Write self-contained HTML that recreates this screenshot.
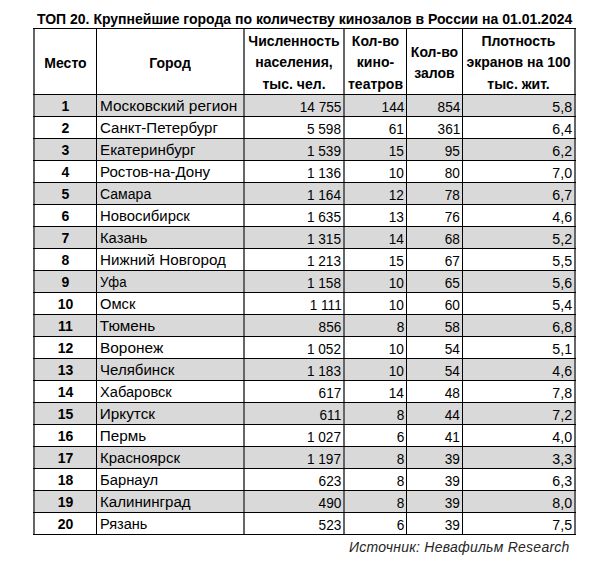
<!DOCTYPE html>
<html><head><meta charset="utf-8"><style>
html,body{margin:0;padding:0;background:#fff;}
body{width:609px;height:568px;position:relative;overflow:hidden;font-family:"Liberation Sans",sans-serif;color:#000;}
.a{position:absolute;white-space:nowrap;}
.hl{position:absolute;height:1px;background:#000;}
.vl{position:absolute;}
.g{position:absolute;background:#d9d9d9;}
.t{position:absolute;white-space:nowrap;font-size:15px;line-height:20px;height:20px;}
.b{font-weight:bold;font-size:14px;}
.num{text-align:right;font-size:15.2px;}
.num span{display:inline-block;transform:scaleX(0.898);transform-origin:100% 50%;}
.h{position:absolute;font-weight:bold;font-size:14px;line-height:21.5px;text-align:center;white-space:nowrap;}
</style></head><body>

<div class="a" style="left:37px;top:10.5px;font-size:14px;font-weight:bold;line-height:16px;letter-spacing:0px">ТОП 20. Крупнейшие города по количеству кинозалов в России на 01.01.2024</div>
<div class="g" style="left:33px;top:94px;width:543px;height:22px"></div>
<div class="g" style="left:33px;top:138px;width:543px;height:22px"></div>
<div class="g" style="left:33px;top:182px;width:543px;height:22px"></div>
<div class="g" style="left:33px;top:226px;width:543px;height:22px"></div>
<div class="g" style="left:33px;top:270px;width:543px;height:22px"></div>
<div class="g" style="left:33px;top:314px;width:543px;height:22px"></div>
<div class="g" style="left:33px;top:358px;width:543px;height:22px"></div>
<div class="g" style="left:33px;top:402px;width:543px;height:22px"></div>
<div class="g" style="left:33px;top:446px;width:543px;height:22px"></div>
<div class="g" style="left:33px;top:490px;width:543px;height:22px"></div>
<div class="vl" style="left:33px;top:28px;width:2px;height:507px;background:#666"></div>
<div class="vl" style="left:96px;top:28px;width:1px;height:507px;background:#000"></div>
<div class="vl" style="left:243px;top:28px;width:2px;height:507px;background:#666"></div>
<div class="vl" style="left:343px;top:28px;width:2px;height:507px;background:#666"></div>
<div class="vl" style="left:406px;top:28px;width:1px;height:507px;background:#000"></div>
<div class="vl" style="left:462px;top:28px;width:1px;height:507px;background:#000"></div>
<div class="vl" style="left:574px;top:28px;width:2px;height:507px;background:#666"></div>
<div class="hl" style="left:33px;top:28px;width:543px"></div>
<div class="hl" style="left:33px;top:94px;width:543px"></div>
<div class="hl" style="left:33px;top:116px;width:543px"></div>
<div class="hl" style="left:33px;top:138px;width:543px"></div>
<div class="hl" style="left:33px;top:160px;width:543px"></div>
<div class="hl" style="left:33px;top:182px;width:543px"></div>
<div class="hl" style="left:33px;top:204px;width:543px"></div>
<div class="hl" style="left:33px;top:226px;width:543px"></div>
<div class="hl" style="left:33px;top:248px;width:543px"></div>
<div class="hl" style="left:33px;top:270px;width:543px"></div>
<div class="hl" style="left:33px;top:292px;width:543px"></div>
<div class="hl" style="left:33px;top:314px;width:543px"></div>
<div class="hl" style="left:33px;top:336px;width:543px"></div>
<div class="hl" style="left:33px;top:358px;width:543px"></div>
<div class="hl" style="left:33px;top:380px;width:543px"></div>
<div class="hl" style="left:33px;top:402px;width:543px"></div>
<div class="hl" style="left:33px;top:424px;width:543px"></div>
<div class="hl" style="left:33px;top:446px;width:543px"></div>
<div class="hl" style="left:33px;top:468px;width:543px"></div>
<div class="hl" style="left:33px;top:490px;width:543px"></div>
<div class="hl" style="left:33px;top:512px;width:543px"></div>
<div class="hl" style="left:33px;top:534px;width:543px"></div>
<div class="h" style="left:35px;top:52.5px;width:61px">Место</div>
<div class="h" style="left:97px;top:52.5px;width:146px">Город</div>
<div class="h" style="left:245px;top:30.5px;width:98px">Численность<br>населения,<br>тыс. чел.</div>
<div class="h" style="left:345px;top:30.5px;width:61px">Кол-во<br>кино-<br>театров</div>
<div class="h" style="left:407px;top:41.5px;width:55px">Кол-во<br>залов</div>
<div class="h" style="left:463px;top:30.5px;width:111px">Плотность<br>экранов на 100<br>тыс. жит.</div>
<div class="t b" style="left:35px;width:61px;top:96px;text-align:center">1</div>
<div class="t" style="left:99.8px;top:96px;font-size:15.3px"><span style="display:inline-block;transform:scaleX(1.009);transform-origin:0 50%">Московский регион</span></div>
<div class="t num" style="left:241.39999999999998px;width:100px;top:97px"><span>14 755</span></div>
<div class="t num" style="left:304.4px;width:100px;top:97px"><span>144</span></div>
<div class="t num" style="left:360.4px;width:100px;top:97px"><span>854</span></div>
<div class="t num" style="left:472px;width:100px;top:97px"><span style="transform:scaleX(0.9375)">5,8</span></div>
<div class="t b" style="left:35px;width:61px;top:118px;text-align:center">2</div>
<div class="t" style="left:99.8px;top:118px;font-size:15.3px"><span style="display:inline-block;transform:scaleX(0.983);transform-origin:0 50%">Санкт-Петербург</span></div>
<div class="t num" style="left:241.39999999999998px;width:100px;top:119px"><span>5 598</span></div>
<div class="t num" style="left:304.4px;width:100px;top:119px"><span>61</span></div>
<div class="t num" style="left:360.4px;width:100px;top:119px"><span>361</span></div>
<div class="t num" style="left:472px;width:100px;top:119px"><span style="transform:scaleX(0.9375)">6,4</span></div>
<div class="t b" style="left:35px;width:61px;top:140px;text-align:center">3</div>
<div class="t" style="left:99.8px;top:140px;font-size:15.3px"><span style="display:inline-block;transform:scaleX(0.993);transform-origin:0 50%">Екатеринбург</span></div>
<div class="t num" style="left:241.39999999999998px;width:100px;top:141px"><span>1 539</span></div>
<div class="t num" style="left:304.4px;width:100px;top:141px"><span>15</span></div>
<div class="t num" style="left:360.4px;width:100px;top:141px"><span>95</span></div>
<div class="t num" style="left:472px;width:100px;top:141px"><span style="transform:scaleX(0.9375)">6,2</span></div>
<div class="t b" style="left:35px;width:61px;top:162px;text-align:center">4</div>
<div class="t" style="left:99.8px;top:162px;font-size:15.3px"><span style="display:inline-block;transform:scaleX(0.988);transform-origin:0 50%">Ростов-на-Дону</span></div>
<div class="t num" style="left:241.39999999999998px;width:100px;top:163px"><span>1 136</span></div>
<div class="t num" style="left:304.4px;width:100px;top:163px"><span>10</span></div>
<div class="t num" style="left:360.4px;width:100px;top:163px"><span>80</span></div>
<div class="t num" style="left:472px;width:100px;top:163px"><span style="transform:scaleX(0.9375)">7,0</span></div>
<div class="t b" style="left:35px;width:61px;top:184px;text-align:center">5</div>
<div class="t" style="left:99.8px;top:184px;font-size:15.3px"><span style="display:inline-block;transform:scaleX(0.918);transform-origin:0 50%">Самара</span></div>
<div class="t num" style="left:241.39999999999998px;width:100px;top:185px"><span>1 164</span></div>
<div class="t num" style="left:304.4px;width:100px;top:185px"><span>12</span></div>
<div class="t num" style="left:360.4px;width:100px;top:185px"><span>78</span></div>
<div class="t num" style="left:472px;width:100px;top:185px"><span style="transform:scaleX(0.9375)">6,7</span></div>
<div class="t b" style="left:35px;width:61px;top:206px;text-align:center">6</div>
<div class="t" style="left:99.8px;top:206px;font-size:15.3px"><span style="display:inline-block;transform:scaleX(0.973);transform-origin:0 50%">Новосибирск</span></div>
<div class="t num" style="left:241.39999999999998px;width:100px;top:207px"><span>1 635</span></div>
<div class="t num" style="left:304.4px;width:100px;top:207px"><span>13</span></div>
<div class="t num" style="left:360.4px;width:100px;top:207px"><span>76</span></div>
<div class="t num" style="left:472px;width:100px;top:207px"><span style="transform:scaleX(0.9375)">4,6</span></div>
<div class="t b" style="left:35px;width:61px;top:228px;text-align:center">7</div>
<div class="t" style="left:99.8px;top:228px;font-size:15.3px"><span style="display:inline-block;transform:scaleX(0.965);transform-origin:0 50%">Казань</span></div>
<div class="t num" style="left:241.39999999999998px;width:100px;top:229px"><span>1 315</span></div>
<div class="t num" style="left:304.4px;width:100px;top:229px"><span>14</span></div>
<div class="t num" style="left:360.4px;width:100px;top:229px"><span>68</span></div>
<div class="t num" style="left:472px;width:100px;top:229px"><span style="transform:scaleX(0.9375)">5,2</span></div>
<div class="t b" style="left:35px;width:61px;top:250px;text-align:center">8</div>
<div class="t" style="left:99.8px;top:250px;font-size:15.3px"><span style="display:inline-block;transform:scaleX(0.994);transform-origin:0 50%">Нижний Новгород</span></div>
<div class="t num" style="left:241.39999999999998px;width:100px;top:251px"><span>1 213</span></div>
<div class="t num" style="left:304.4px;width:100px;top:251px"><span>15</span></div>
<div class="t num" style="left:360.4px;width:100px;top:251px"><span>67</span></div>
<div class="t num" style="left:472px;width:100px;top:251px"><span style="transform:scaleX(0.9375)">5,5</span></div>
<div class="t b" style="left:35px;width:61px;top:272px;text-align:center">9</div>
<div class="t" style="left:99.8px;top:272px;font-size:15.3px"><span style="display:inline-block;transform:scaleX(0.86);transform-origin:0 50%">Уфа</span></div>
<div class="t num" style="left:241.39999999999998px;width:100px;top:273px"><span>1 158</span></div>
<div class="t num" style="left:304.4px;width:100px;top:273px"><span>10</span></div>
<div class="t num" style="left:360.4px;width:100px;top:273px"><span>65</span></div>
<div class="t num" style="left:472px;width:100px;top:273px"><span style="transform:scaleX(0.9375)">5,6</span></div>
<div class="t b" style="left:35px;width:61px;top:294px;text-align:center">10</div>
<div class="t" style="left:99.8px;top:294px;font-size:15.3px"><span style="display:inline-block;transform:scaleX(0.964);transform-origin:0 50%">Омск</span></div>
<div class="t num" style="left:241.39999999999998px;width:100px;top:295px"><span>1 111</span></div>
<div class="t num" style="left:304.4px;width:100px;top:295px"><span>10</span></div>
<div class="t num" style="left:360.4px;width:100px;top:295px"><span>60</span></div>
<div class="t num" style="left:472px;width:100px;top:295px"><span style="transform:scaleX(0.9375)">5,4</span></div>
<div class="t b" style="left:35px;width:61px;top:316px;text-align:center">11</div>
<div class="t" style="left:99.8px;top:316px;font-size:15.3px"><span style="display:inline-block;transform:scaleX(1.0);transform-origin:0 50%">Тюмень</span></div>
<div class="t num" style="left:241.39999999999998px;width:100px;top:317px"><span>856</span></div>
<div class="t num" style="left:304.4px;width:100px;top:317px"><span>8</span></div>
<div class="t num" style="left:360.4px;width:100px;top:317px"><span>58</span></div>
<div class="t num" style="left:472px;width:100px;top:317px"><span style="transform:scaleX(0.9375)">6,8</span></div>
<div class="t b" style="left:35px;width:61px;top:338px;text-align:center">12</div>
<div class="t" style="left:99.8px;top:338px;font-size:15.3px"><span style="display:inline-block;transform:scaleX(1.008);transform-origin:0 50%">Воронеж</span></div>
<div class="t num" style="left:241.39999999999998px;width:100px;top:339px"><span>1 052</span></div>
<div class="t num" style="left:304.4px;width:100px;top:339px"><span>10</span></div>
<div class="t num" style="left:360.4px;width:100px;top:339px"><span>54</span></div>
<div class="t num" style="left:472px;width:100px;top:339px"><span style="transform:scaleX(0.9375)">5,1</span></div>
<div class="t b" style="left:35px;width:61px;top:360px;text-align:center">13</div>
<div class="t" style="left:99.8px;top:360px;font-size:15.3px"><span style="display:inline-block;transform:scaleX(0.984);transform-origin:0 50%">Челябинск</span></div>
<div class="t num" style="left:241.39999999999998px;width:100px;top:361px"><span>1 183</span></div>
<div class="t num" style="left:304.4px;width:100px;top:361px"><span>10</span></div>
<div class="t num" style="left:360.4px;width:100px;top:361px"><span>54</span></div>
<div class="t num" style="left:472px;width:100px;top:361px"><span style="transform:scaleX(0.9375)">4,6</span></div>
<div class="t b" style="left:35px;width:61px;top:382px;text-align:center">14</div>
<div class="t" style="left:99.8px;top:382px;font-size:15.3px"><span style="display:inline-block;transform:scaleX(0.957);transform-origin:0 50%">Хабаровск</span></div>
<div class="t num" style="left:241.39999999999998px;width:100px;top:383px"><span>617</span></div>
<div class="t num" style="left:304.4px;width:100px;top:383px"><span>14</span></div>
<div class="t num" style="left:360.4px;width:100px;top:383px"><span>48</span></div>
<div class="t num" style="left:472px;width:100px;top:383px"><span style="transform:scaleX(0.9375)">7,8</span></div>
<div class="t b" style="left:35px;width:61px;top:404px;text-align:center">15</div>
<div class="t" style="left:99.8px;top:404px;font-size:15.3px"><span style="display:inline-block;transform:scaleX(1.0);transform-origin:0 50%">Иркутск</span></div>
<div class="t num" style="left:241.39999999999998px;width:100px;top:405px"><span>611</span></div>
<div class="t num" style="left:304.4px;width:100px;top:405px"><span>8</span></div>
<div class="t num" style="left:360.4px;width:100px;top:405px"><span>44</span></div>
<div class="t num" style="left:472px;width:100px;top:405px"><span style="transform:scaleX(0.9375)">7,2</span></div>
<div class="t b" style="left:35px;width:61px;top:426px;text-align:center">16</div>
<div class="t" style="left:99.8px;top:426px;font-size:15.3px"><span style="display:inline-block;transform:scaleX(1.0);transform-origin:0 50%">Пермь</span></div>
<div class="t num" style="left:241.39999999999998px;width:100px;top:427px"><span>1 027</span></div>
<div class="t num" style="left:304.4px;width:100px;top:427px"><span>6</span></div>
<div class="t num" style="left:360.4px;width:100px;top:427px"><span>41</span></div>
<div class="t num" style="left:472px;width:100px;top:427px"><span style="transform:scaleX(0.9375)">4,0</span></div>
<div class="t b" style="left:35px;width:61px;top:448px;text-align:center">17</div>
<div class="t" style="left:99.8px;top:448px;font-size:15.3px"><span style="display:inline-block;transform:scaleX(0.979);transform-origin:0 50%">Красноярск</span></div>
<div class="t num" style="left:241.39999999999998px;width:100px;top:449px"><span>1 197</span></div>
<div class="t num" style="left:304.4px;width:100px;top:449px"><span>8</span></div>
<div class="t num" style="left:360.4px;width:100px;top:449px"><span>39</span></div>
<div class="t num" style="left:472px;width:100px;top:449px"><span style="transform:scaleX(0.9375)">3,3</span></div>
<div class="t b" style="left:35px;width:61px;top:470px;text-align:center">18</div>
<div class="t" style="left:99.8px;top:470px;font-size:15.3px"><span style="display:inline-block;transform:scaleX(0.967);transform-origin:0 50%">Барнаул</span></div>
<div class="t num" style="left:241.39999999999998px;width:100px;top:471px"><span>623</span></div>
<div class="t num" style="left:304.4px;width:100px;top:471px"><span>8</span></div>
<div class="t num" style="left:360.4px;width:100px;top:471px"><span>39</span></div>
<div class="t num" style="left:472px;width:100px;top:471px"><span style="transform:scaleX(0.9375)">6,3</span></div>
<div class="t b" style="left:35px;width:61px;top:492px;text-align:center">19</div>
<div class="t" style="left:99.8px;top:492px;font-size:15.3px"><span style="display:inline-block;transform:scaleX(0.987);transform-origin:0 50%">Калининград</span></div>
<div class="t num" style="left:241.39999999999998px;width:100px;top:493px"><span>490</span></div>
<div class="t num" style="left:304.4px;width:100px;top:493px"><span>8</span></div>
<div class="t num" style="left:360.4px;width:100px;top:493px"><span>39</span></div>
<div class="t num" style="left:472px;width:100px;top:493px"><span style="transform:scaleX(0.9375)">8,0</span></div>
<div class="t b" style="left:35px;width:61px;top:514px;text-align:center">20</div>
<div class="t" style="left:99.8px;top:514px;font-size:15.3px"><span style="display:inline-block;transform:scaleX(0.95);transform-origin:0 50%">Рязань</span></div>
<div class="t num" style="left:241.39999999999998px;width:100px;top:515px"><span>523</span></div>
<div class="t num" style="left:304.4px;width:100px;top:515px"><span>6</span></div>
<div class="t num" style="left:360.4px;width:100px;top:515px"><span>39</span></div>
<div class="t num" style="left:472px;width:100px;top:515px"><span style="transform:scaleX(0.9375)">7,5</span></div>
<div class="a" style="left:349px;top:538.5px;font-size:14px;font-style:italic;line-height:16px;letter-spacing:0.25px;color:#262626">Источник: Невафильм Research</div>
</body></html>
